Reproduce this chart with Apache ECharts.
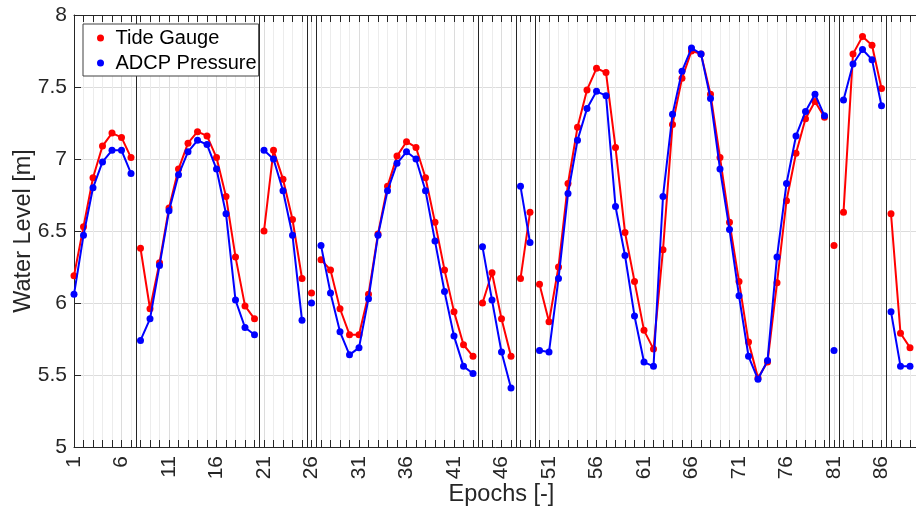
<!DOCTYPE html>
<html>
<head>
<meta charset="utf-8" />
<title>Water Level vs Epochs</title>
<script src="https://cdn.jsdelivr.net/npm/echarts@6/dist/echarts.min.js"></script>
<style>
    html, body { margin: 0; padding: 0; background: #fff; }
    #chart { width: 916px; height: 508px; }
</style>
</head>
<body>
<div id="chart"></div>
<script type="text/javascript">
    // epoch numbers along x
    const epochs = [];
    for (let i = 1; i <= 89; i++) epochs.push(i);

    // water level [m]
    const tideGauge = [
        6.19, 6.53, 6.87, 7.09, 7.18, 7.15, 7.01,
        6.38, 5.96, 6.28, 6.66, 6.93, 7.11, 7.19, 7.16, 7.01, 6.74, 6.32, 5.98, 5.89,
        6.50, 7.06, 6.86, 6.58, 6.17,
        6.07,
        6.30, 6.23, 5.96, 5.78, 5.78, 6.06, 6.48, 6.81, 7.02, 7.12, 7.08, 6.87, 6.56, 6.23, 5.94, 5.71, 5.63,
        6.00, 6.21, 5.89, 5.63,
        6.17, 6.63,
        6.13, 5.87, 6.25, 6.83, 7.22, 7.48, 7.63, 7.60, 7.08, 6.49, 6.15, 5.81, 5.68, 6.37, 7.24, 7.56, 7.75,
        7.73, 7.45, 7.01, 6.56, 6.15, 5.73, 5.48, 5.59, 6.14, 6.71, 7.04, 7.28, 7.40, 7.29,
        6.40,
        6.63, 7.73, 7.85, 7.79, 7.49,
        6.62, 5.79, 5.69
    ];
    const adcpPressure = [
        6.06, 6.47, 6.80, 6.98, 7.06, 7.06, 6.90,
        5.74, 5.89, 6.26, 6.64, 6.89, 7.05, 7.13, 7.10, 6.93, 6.62, 6.02, 5.83, 5.78,
        7.06, 7.00, 6.78, 6.47, 5.88,
        6.00,
        6.40, 6.07, 5.80, 5.64, 5.69, 6.03, 6.47, 6.78, 6.97, 7.05, 7.00, 6.78, 6.43, 6.08, 5.77, 5.56, 5.51,
        6.39, 6.02, 5.66, 5.41,
        6.81, 6.42,
        5.67, 5.66, 6.17, 6.76, 7.13, 7.35, 7.47, 7.44, 6.67, 6.33, 5.91, 5.59, 5.56, 6.74, 7.31, 7.61, 7.77,
        7.73, 7.42, 6.93, 6.51, 6.05, 5.63, 5.47, 5.60, 6.32, 6.83, 7.16, 7.33, 7.45, 7.30,
        5.67,
        7.41, 7.66, 7.76, 7.69, 7.37,
        5.94, 5.56, 5.56
    ];

    // vertical separators between measurement runs
    const breaks = [7.5, 20.5, 25.5, 26.5, 43.5, 47.5, 49.5, 80.5, 81.5, 86.5];

    const font = "'Liberation Sans', Arial, sans-serif";
    const ink = '#262626';

    // split a series into runs so the line does not cross a separator
    function segments(values) {
        const out = [];
        let cur = [];
        epochs.forEach((e, i) => {
            if (i > 0 && breaks.some(b => b > epochs[i - 1] && b < e)) {
                out.push(cur);
                cur = [];
            }
            cur.push([e, values[i]]);
        });
        out.push(cur);
        return out;
    }

    function makeSeries(name, color, values, z) {
        return segments(values).map(seg => ({
            name: name,
            type: 'line',
            data: seg,
            symbol: 'circle',
            symbolSize: 7,
            showSymbol: true,
            z: z,
            itemStyle: { color: color },
            lineStyle: { color: color, width: 2 },
            emphasis: { disabled: true }
        }));
    }

    const redSeries = makeSeries('Tide Gauge', '#ff0000', tideGauge, 3);
    const blueSeries = makeSeries('ADCP Pressure', '#0000ff', adcpPressure, 4);

    redSeries[0].markLine = {
        silent: true,
        symbol: 'none',
        label: { show: false },
        lineStyle: { color: ink, type: 'solid', width: 1 },
        data: breaks.map(b => ({ xAxis: b }))
    };

    const xCommon = {
        type: 'value',
        min: 1,
        max: 91,
        interval: 5,
        axisLine: { show: true, lineStyle: { color: ink, width: 1 } },
        axisTick: { show: true, inside: true, length: 7, lineStyle: { color: ink } },
        minorTick: { show: true, splitNumber: 5, length: 7, lineStyle: { color: ink } }
    };

    const yCommon = {
        type: 'value',
        min: 5,
        max: 8,
        interval: 0.5,
        axisLine: { show: true, lineStyle: { color: ink, width: 1 } },
        axisTick: { show: true, inside: true, length: 7, lineStyle: { color: ink } }
    };

    const chart = echarts.init(document.getElementById('chart'), null, { renderer: 'canvas' });

    const option = {
        animation: false,
        backgroundColor: '#fff',
        grid: {
            left: 74, top: 15, width: 855, height: 432,
            containLabel: false,
            outerBoundsMode: 'none'
        },
        legend: {
            data: ['Tide Gauge', 'ADCP Pressure'],
            orient: 'vertical',
            left: 83,
            top: 24,
            icon: 'circle',
            itemWidth: 20,
            itemHeight: 7,
            itemGap: 5,
            padding: [4, 2, 3, 14],
            backgroundColor: '#fff',
            borderColor: '#404040',
            borderWidth: 1,
            borderRadius: 0,
            z: 10,
            textStyle: { fontSize: 20, color: '#000', fontFamily: font, lineHeight: 20 }
        },
        xAxis: [
            Object.assign({}, xCommon, {
                position: 'bottom',
                name: 'Epochs [-]',
                nameLocation: 'middle',
                nameGap: 36,
                nameMoveOverlap: false,
                nameTextStyle: { fontSize: 23.5, color: ink, fontFamily: font },
                splitLine: { show: true, lineStyle: { color: '#dcdcdc', width: 1 } },
                minorSplitLine: { show: true, lineStyle: { color: '#ececec', width: 1 } },
                axisLabel: {
                    rotate: 90, margin: 9, fontSize: 21, color: ink, fontFamily: font,
                    showMaxLabel: false
                }
            }),
            Object.assign({}, xCommon, {
                position: 'top',
                splitLine: { show: false },
                axisLabel: { show: false }
            })
        ],
        yAxis: [
            Object.assign({}, yCommon, {
                position: 'left',
                name: 'Water Level [m]',
                nameLocation: 'middle',
                nameGap: 38,
                nameMoveOverlap: false,
                nameTextStyle: { fontSize: 23.5, color: ink, fontFamily: font },
                splitLine: { show: true, lineStyle: { color: '#dcdcdc', width: 1 } },
                axisLabel: { margin: 7, fontSize: 21, color: ink, fontFamily: font }
            }),
            Object.assign({}, yCommon, {
                position: 'right',
                splitLine: { show: false },
                axisLabel: { show: false }
            })
        ],
        series: redSeries.concat(blueSeries)
    };

    chart.setOption(option);
</script>
</body>
</html>
